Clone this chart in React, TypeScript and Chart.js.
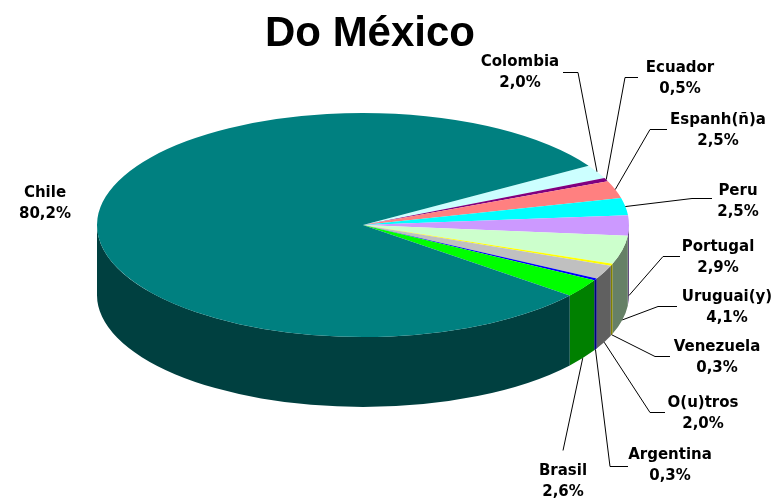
import { useEffect, useRef } from "react";
import { Chart, registerables } from "chart.js";

Chart.register(...registerables);

// ---- data ----
const countries = [
  "Colombia",
  "Ecuador",
  "Espanh(ñ)a",
  "Peru",
  "Portugal",
  "Uruguai(y)",
  "Venezuela",
  "O(u)tros",
  "Argentina",
  "Brasil",
  "Chile",
];
const shares = [2.0, 0.5, 2.5, 2.5, 2.9, 4.1, 0.3, 2.0, 0.3, 2.6, 80.2];

// ---- styles ----
const topColors = [
  "#CCFFFF",
  "#800080",
  "#FF8080",
  "#00FFFF",
  "#CC99FF",
  "#CCFFCC",
  "#FFFF00",
  "#C0C0C0",
  "#0000FF",
  "#00FF00",
  "#008080",
];
const wallColors = [
  "#668080",
  "#400040",
  "#804040",
  "#008080",
  "#664C80",
  "#668066",
  "#808000",
  "#606060",
  "#000080",
  "#008000",
  "#004040",
];

// ---- layout (label placement) ----
const labelPos: [number, number][] = [
  [520, 62],
  [680, 68],
  [718, 120],
  [738, 191],
  [718, 247],
  [727, 297],
  [717, 347],
  [703, 403],
  [670, 455],
  [563, 471],
  [45, 193],
];
const leaderEnd: ([number, number] | null)[] = [
  [563, 72],
  [638, 77],
  [667, 129],
  [712, 198],
  [680, 256],
  [677, 306],
  [670, 356],
  [665, 412],
  [628, 466],
  [563, 450],
  null,
];
const elbowDx = [15, -13, -17, -20, -17, -19, -15, -15, -18, 0, 0];
const attachBottom = [false, false, false, false, true, true, true, true, true, true, false];

const CX = 363;
const CY = 225;
const RX = 266;
const RY = 112;
const DEPTH = 70;

const fmt = (v: number) => v.toFixed(1).replace(".", ",") + "%";

const pie3d = {
  id: "pie3d",
  beforeDatasetsDraw(chart: any) {
    const ctx = chart.ctx as CanvasRenderingContext2D;
    const arcs = chart.getDatasetMeta(0).data as any[];
    if (!arcs.length) return false;
    const R = arcs[0].outerRadius;
    const ox = arcs[0].x;
    const oy = arcs[0].y;
    // side walls (front half only)
    arcs.forEach((arc, i) => {
      const s = arc.startAngle;
      const e = arc.endAngle;
      for (let k = -1; k <= 1; k++) {
        const lo = Math.max(s, 2 * Math.PI * k);
        const hi = Math.min(e, 2 * Math.PI * k + Math.PI);
        if (hi > lo) {
          ctx.beginPath();
          ctx.ellipse(CX, CY, RX, RY, 0, lo, hi, false);
          ctx.ellipse(CX, CY + DEPTH, RX, RY, 0, hi, lo, true);
          ctx.closePath();
          ctx.fillStyle = wallColors[i];
          ctx.fill();
        }
      }
    });
    // top faces, drawn by the library's arc elements under a squash transform
    ctx.save();
    ctx.translate(CX, CY);
    ctx.scale(RX / R, RY / R);
    ctx.translate(-ox, -oy);
    arcs.forEach((a) => a.draw(ctx));
    ctx.restore();
    return false;
  },
  afterDraw(chart: any) {
    const ctx = chart.ctx as CanvasRenderingContext2D;
    const arcs = chart.getDatasetMeta(0).data as any[];
    ctx.save();
    ctx.strokeStyle = "#000";
    ctx.lineWidth = 1;
    arcs.forEach((arc, i) => {
      const end = leaderEnd[i];
      if (!end) return;
      const m = (arc.startAngle + arc.endAngle) / 2;
      const ax = CX + RX * Math.cos(m);
      const ay = CY + RY * Math.sin(m) + (attachBottom[i] ? DEPTH : 0);
      ctx.beginPath();
      ctx.moveTo(ax, ay);
      ctx.lineTo(end[0] + elbowDx[i], end[1] + 0.5);
      ctx.lineTo(end[0], end[1] + 0.5);
      ctx.stroke();
    });
    ctx.fillStyle = "#000";
    ctx.font = "bold 15px 'DejaVu Sans', Verdana, sans-serif";
    ctx.textAlign = "center";
    ctx.textBaseline = "middle";
    countries.forEach((c, i) => {
      const [x, y] = labelPos[i];
      ctx.fillText(c, x, y);
      ctx.fillText(fmt(shares[i]), x, y + 21);
    });
    ctx.restore();
  },
};

export default function App() {
  const ref = useRef<HTMLCanvasElement | null>(null);
  useEffect(() => {
    if (!ref.current) return;
    const chart = new Chart(ref.current, {
      type: "pie",
      data: {
        labels: countries,
        datasets: [
          {
            data: shares,
            backgroundColor: topColors,
            borderWidth: 0,
          },
        ],
      },
      options: {
        animation: false,
        responsive: false,
        events: [],
        rotation: 58,
        layout: { padding: { left: 0, right: 32, top: 0, bottom: 0 } },
        plugins: {
          legend: { display: false },
          tooltip: { enabled: false },
          title: {
            display: true,
            text: "Do México",
            color: "#000",
            font: { family: "'Liberation Sans', Arial, sans-serif", size: 42, weight: "bold" },
            padding: { top: 9, bottom: 0 },
          },
        },
      },
      plugins: [pie3d],
    });
    return () => chart.destroy();
  }, []);
  return (
    <div style={{ position: "absolute", left: 0, top: 0, width: 772, height: 500, background: "#fff" }}>
      <canvas ref={ref} width={772} height={500} style={{ display: "block" }} />
    </div>
  );
}
